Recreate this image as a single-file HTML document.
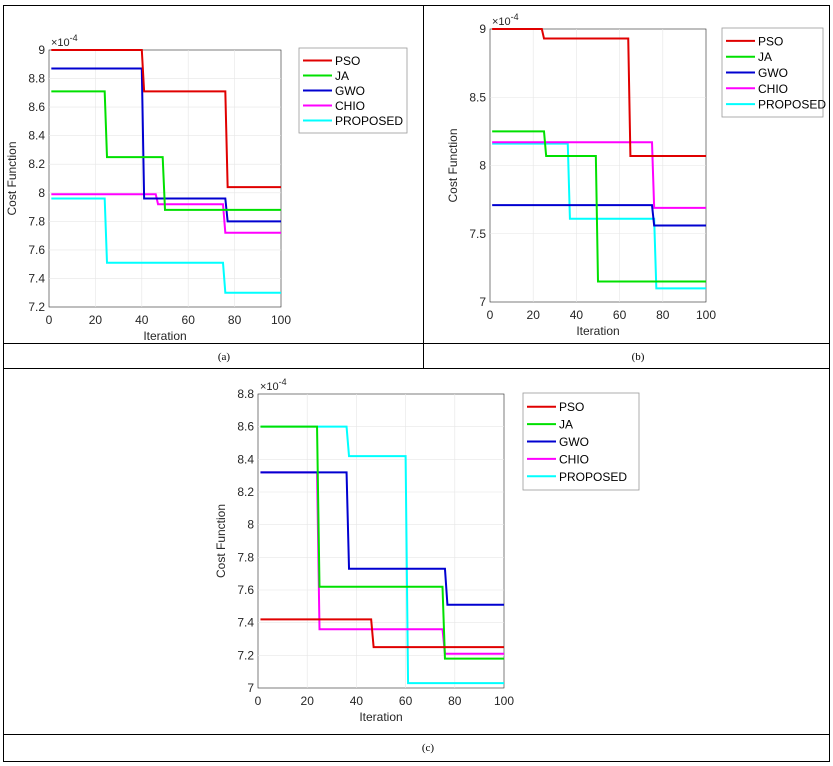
<!DOCTYPE html>
<html><head><meta charset="utf-8"><style>
body{margin:0;background:#fff;}
svg{display:block;font-family:"Liberation Sans",Arial,sans-serif;}
</style></head><body>
<svg id="s" width="833" height="766" xmlns="http://www.w3.org/2000/svg"></svg>
<script>
const s=document.getElementById('s');let h='';
// table
h+='<rect x="3.5" y="5.5" width="826" height="756" fill="none" stroke="#000" stroke-width="1"/>';
h+='<line x1="3" y1="343.5" x2="830" y2="343.5" stroke="#000"/>';
h+='<line x1="3" y1="368.5" x2="830" y2="368.5" stroke="#000"/>';
h+='<line x1="423.5" y1="5" x2="423.5" y2="368" stroke="#000"/>';
h+='<line x1="3" y1="734.5" x2="830" y2="734.5" stroke="#000"/>';
h+='<text x="224" y="360" font-family="Liberation Serif" font-size="11" text-anchor="middle">(a)</text>';
h+='<text x="638" y="360" font-family="Liberation Serif" font-size="11" text-anchor="middle">(b)</text>';
h+='<text x="428" y="751" font-family="Liberation Serif" font-size="11" text-anchor="middle">(c)</text>';
const C={PSO:'#e00000',JA:'#00e000',GWO:'#0000d0',CHIO:'#ff00ff',PROPOSED:'#00ffff'};
function plot(L,R,T,B,y0,y1,yt,ylabs,series,lg){
 const X=v=>L+(R-L)*v/100,Y=v=>B-(B-T)*(v-y0)/(y1-y0);
 h+=`<rect x="${L}" y="${T}" width="${R-L}" height="${B-T}" fill="#fff" stroke="#262626" stroke-width="0.6"/>`;
 for(let i=0;i<=100;i+=20){const x=X(i);
  if(i>0&&i<100)h+=`<line x1="${x}" y1="${T}" x2="${x}" y2="${B}" stroke="#e6e6e6" stroke-width="0.6"/>`;
  h+=`<text x="${x}" y="${B+17}" font-size="12" fill="#262626" text-anchor="middle">${i}</text>`;}
 yt.forEach((v,k)=>{const y=Y(v);
  if(v>y0&&v<y1)h+=`<line x1="${L}" y1="${y}" x2="${R}" y2="${y}" stroke="#e6e6e6" stroke-width="0.6"/>`;
  h+=`<text x="${L-4}" y="${y+4}" font-size="12" fill="#262626" text-anchor="end">${ylabs[k]}</text>`;});
 h+=`<text x="${L+2}" y="${T-4}" font-size="11" fill="#262626">×10<tspan dy="-5" font-size="9">-4</tspan></text>`;
 h+=`<text x="${(L+R)/2}" y="${B+33}" font-size="12" fill="#262626" text-anchor="middle">Iteration</text>`;
 h+=`<text transform="translate(${L-33},${(T+B)/2}) rotate(-90)" font-size="12" fill="#262626" text-anchor="middle">Cost Function</text>`;
 for(const k of ['PROPOSED','CHIO','GWO','JA','PSO']){const st=series[k];
  let p=`M${X(1)},${Y(st[0][1])}`;
  for(let i=0;i<st.length;i++){const end=i+1<st.length?st[i][0]:100;
   p+=` L${X(end)},${Y(st[i][1])}`; if(i+1<st.length)p+=` L${X(end+1)},${Y(st[i+1][1])}`;}
  h+=`<path d="${p}" fill="none" stroke="${C[k]}" stroke-width="2"/>`;}
 const [lx,ly,lw,lh]=lg;
 h+=`<rect x="${lx}" y="${ly}" width="${lw}" height="${lh}" fill="#fff" stroke="#999" stroke-width="0.8"/>`;
 const step=(lh-10)/5;
 Object.keys(C).forEach((k,i)=>{const y=ly+5+step*(i+0.5);
  h+=`<line x1="${lx+4}" y1="${y}" x2="${lx+33}" y2="${y}" stroke="${C[k]}" stroke-width="2"/>`;
  h+=`<text x="${lx+36}" y="${y+4.5}" font-size="12" fill="#000">${k}</text>`;});
}
plot(49,281,50,307,7.2,9.0,[7.2,7.4,7.6,7.8,8,8.2,8.4,8.6,8.8,9],['7.2','7.4','7.6','7.8','8','8.2','8.4','8.6','8.8','9'],{
 PSO:[[40,9.0],[76,8.71],[0,8.04]],JA:[[24,8.71],[49,8.25],[0,7.88]],GWO:[[40,8.87],[76,7.96],[0,7.80]],
 CHIO:[[46,7.99],[75,7.92],[0,7.72]],PROPOSED:[[24,7.96],[75,7.51],[0,7.30]]},[299,48,108,85]);
plot(490,706,29,302,7,9,[7,7.5,8,8.5,9],['7','7.5','8','8.5','9'],{
 PSO:[[24,9.0],[64,8.93],[0,8.07]],JA:[[25,8.25],[49,8.07],[0,7.15]],GWO:[[75,7.71],[0,7.56]],
 CHIO:[[75,8.17],[0,7.69]],PROPOSED:[[36,8.16],[76,7.61],[0,7.10]]},[722,28,101,89]);
plot(258,504,394,688,7,8.8,[7,7.2,7.4,7.6,7.8,8,8.2,8.4,8.6,8.8],['7','7.2','7.4','7.6','7.8','8','8.2','8.4','8.6','8.8'],{
 PSO:[[46,7.42],[0,7.25]],JA:[[24,8.60],[75,7.62],[0,7.18]],GWO:[[36,8.32],[76,7.73],[0,7.51]],
 CHIO:[[24,8.32],[75,7.36],[0,7.21]],PROPOSED:[[36,8.60],[60,8.42],[0,7.03]]},[523,393,116,97]);
s.innerHTML=h;
</script>
</body></html>
